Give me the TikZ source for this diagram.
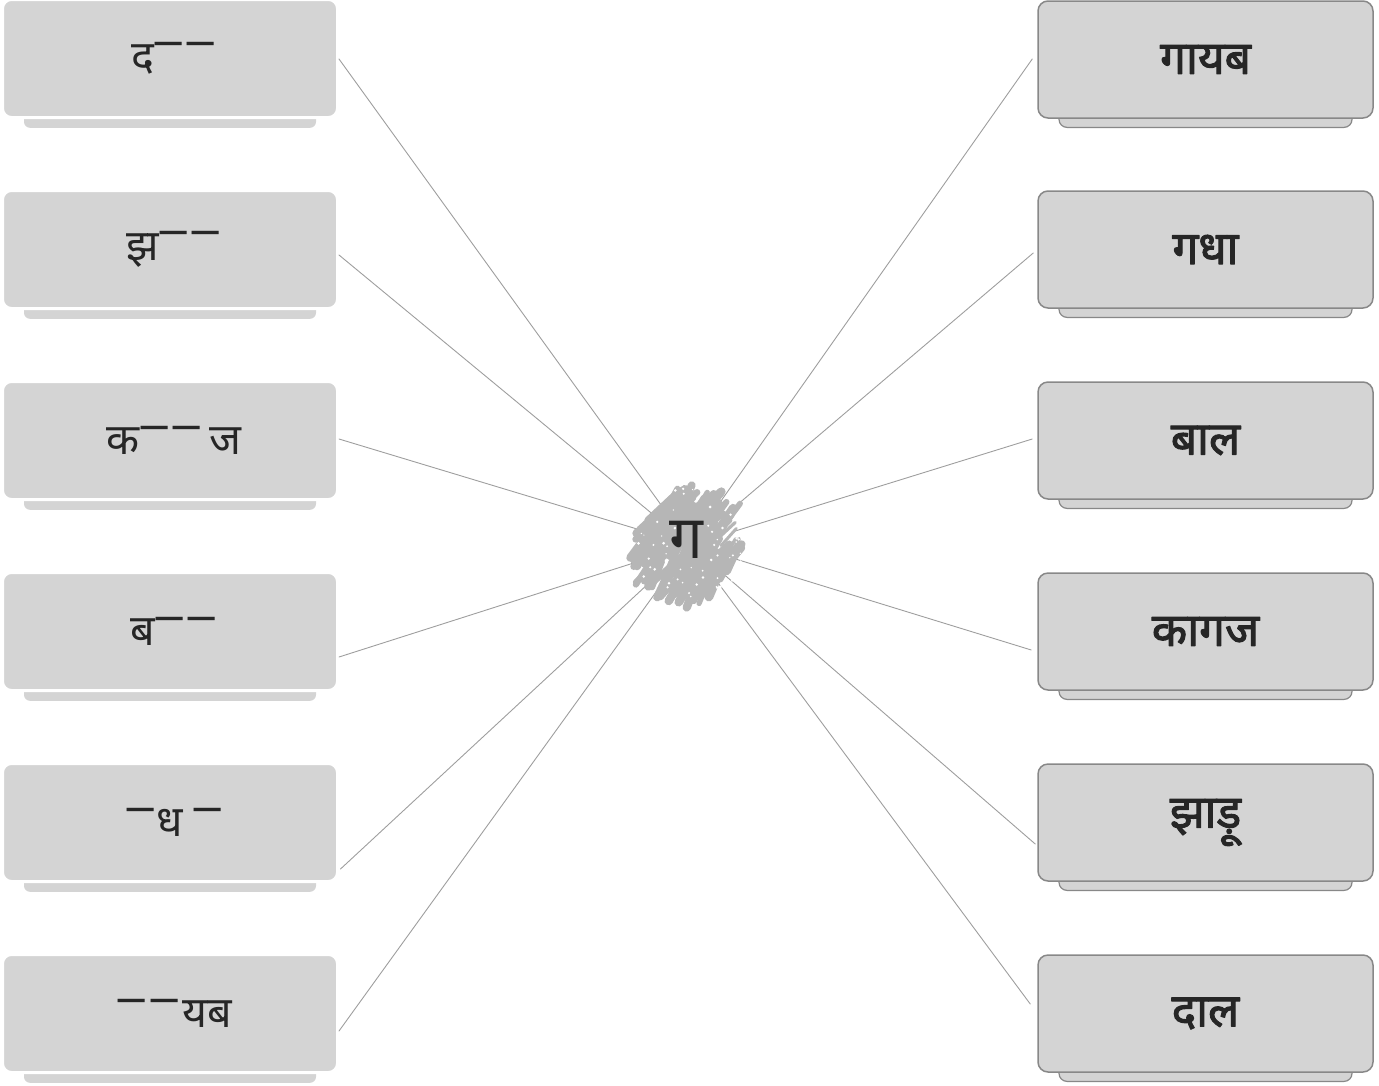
\documentclass[tikz,border=0pt]{standalone}
\usepackage{fontspec}
\setmainfont{Noto Sans}
\newfontfamily\deva[Script=Devanagari]{Noto Sans}
\newfontfamily\devabold[Script=Devanagari,FakeBold=2.2]{Noto Sans}
\usepackage{tikz}
\definecolor{cardgray}{RGB}{212,212,212}
\definecolor{rimgray}{RGB}{136,136,136}
\definecolor{wiregray}{RGB}{158,158,158}
\definecolor{smudge}{RGB}{182,182,182}
\definecolor{ink}{RGB}{38,38,38}
\newcommand{\blankbar}{\raisebox{0.36em}{\scalebox{1.5}[1]{–}}}

\begin{document}
\begin{tikzpicture}[x=1pt,y=-1pt,line cap=round,line join=round,
  qcard/.style={fill=cardgray,draw=white,line width=3pt,rounded corners=9pt,minimum width=335pt,minimum height=118pt,inner sep=0pt,text=ink,font=\deva\fontsize{43}{48}\selectfont,execute at begin node={\kern8pt}},
  qshade/.style={fill=cardgray,rounded corners=6pt,minimum width=292pt,minimum height=24pt,inner sep=0pt},
  acard/.style={fill=cardgray,draw=rimgray,line width=1.5pt,rounded corners=10pt,minimum width=335pt,minimum height=117pt,inner sep=0pt,text=ink,font=\devabold\fontsize{46}{50}\selectfont},
  ashade/.style={fill=cardgray,draw=rimgray,line width=1.2pt,rounded corners=8pt,minimum width=293pt,minimum height=30pt,inner sep=0pt},
  wire/.style={wiregray,line width=0.9pt}]
  \useasboundingbox (0,0) rectangle (1379,1085);
  \node[circle,minimum size=90pt,inner sep=0pt] (hub) at (690,545) {};
  % question cards, left
  \node[qshade,anchor=south] (q1s) at (170,128) {};
  \node[qshade,anchor=south] (q2s) at (170,319) {};
  \node[qshade,anchor=south] (q3s) at (170,510) {};
  \node[qshade,anchor=south] (q4s) at (170,701) {};
  \node[qshade,anchor=south] (q5s) at (170,892) {};
  \node[qshade,anchor=south] (q6s) at (170,1083) {};
  \node[qcard] (q1) at (170,58.5) {द\kern-0.04em\blankbar\blankbar};
  \node[qcard] (q2) at (170,249.5) {झ\kern-0.04em\blankbar\blankbar};
  \node[qcard] (q3) at (170,440.5) {क\kern-0.04em\blankbar\blankbar\kern0.15em ज};
  \node[qcard] (q4) at (170,631.5) {ब\kern-0.04em\blankbar\blankbar};
  \node[qcard] (q5) at (170,822.5) {\blankbar ध\kern0.2em\blankbar};
  \node[qcard] (q6) at (170,1013.5) {\blankbar\blankbar\kern0.05em यब};
  % answer cards, right
  \node[ashade,anchor=south] (a1s) at (1205.5,128) {};
  \node[ashade,anchor=south] (a2s) at (1205.5,318) {};
  \node[ashade,anchor=south] (a3s) at (1205.5,509) {};
  \node[ashade,anchor=south] (a4s) at (1205.5,700) {};
  \node[ashade,anchor=south] (a5s) at (1205.5,891) {};
  \node[ashade,anchor=south] (a6s) at (1205.5,1082) {};
  \node[acard] (a1) at (1205.5,59.5) {गायब};
  \node[acard] (a2) at (1205.5,249.5) {गधा};
  \node[acard] (a3) at (1205.5,440.5) {बाल};
  \node[acard] (a4) at (1205.5,631.5) {कागज};
  \node[acard] (a5) at (1205.5,822.5) {झाड़ू};
  \node[acard] (a6) at (1205.5,1013.5) {दाल};
  % wires to the hub
  \draw[wire] (hub) -- ([xshift=0pt,yshift=-0.5pt]q1.east);
  \draw[wire] (hub) -- ([xshift=0pt,yshift=-5.5pt]q2.east);
  \draw[wire] (hub) -- ([xshift=0pt,yshift=1.5pt]q3.east);
  \draw[wire] (hub) -- ([xshift=0pt,yshift=-25.5pt]q4.east);
  \draw[wire] (hub) -- ([xshift=1.5pt,yshift=-46.5pt]q5.east);
  \draw[wire] (hub) -- ([xshift=0pt,yshift=-17.5pt]q6.east);
  \draw[wire] (hub) -- ([xshift=-5pt,yshift=0.5pt]a1.west);
  \draw[wire] (hub) -- ([xshift=-4pt,yshift=-3.5pt]a2.west);
  \draw[wire] (hub) -- ([xshift=-5pt,yshift=1.5pt]a3.west);
  \draw[wire] (hub) -- ([xshift=-6pt,yshift=-18.5pt]a4.west);
  \draw[wire] (hub) -- ([xshift=-2pt,yshift=-21.5pt]a5.west);
  \draw[wire] (hub) -- ([xshift=-7pt,yshift=9.5pt]a6.west);
  % smudge behind the letter
  \pgfmathsetseed{17}
  \foreach \k in {1,...,170}{
    \pgfmathsetmacro{\pa}{360*rnd}
    \pgfmathsetmacro{\pr}{48*sqrt(rnd)}
    \pgfmathsetmacro{\th}{55+30*(rnd-0.5)}
    \pgfmathsetmacro{\len}{18+30*rnd}
    \pgfmathsetmacro{\lw}{3+6*rnd}
    \draw[smudge,line width=\lw pt] ([shift={(\pa:\pr)}]hub.center) ++(180-\th:\len/2) -- ++(-\th:\len);
  }
  \foreach \k in {1,...,60}{
    \pgfmathsetmacro{\pa}{360*rnd}
    \pgfmathsetmacro{\pr}{20+38*rnd}
    \fill[white] ([shift={(\pa:\pr)}]hub.center) circle (0.6+0.9*rnd);
  }
  \node[text=ink,font=\deva\fontsize{60}{64}\selectfont] (hubtxt) at (686,540) {ग};
\end{tikzpicture}
\end{document}
